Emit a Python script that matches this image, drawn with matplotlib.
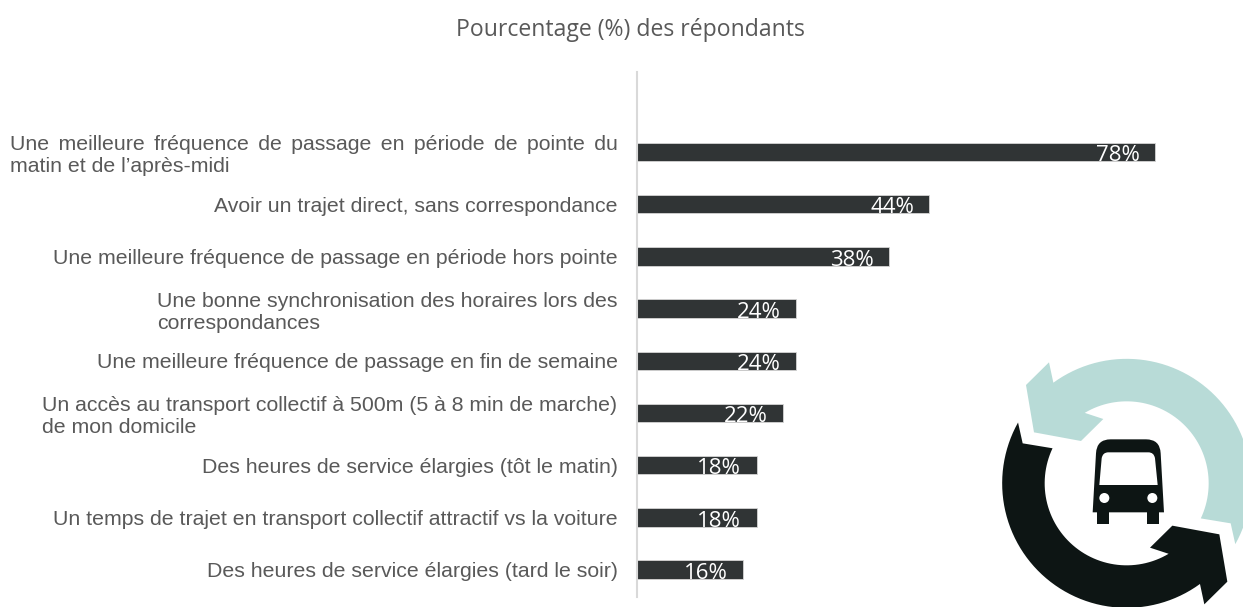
#!/usr/bin/env python
from matplotlib import pyplot as plt
from matplotlib.patches import Polygon, Circle, PathPatch, Rectangle
from matplotlib.path import Path
import numpy as np

labels = [
    'Une \u2006meilleure \u2006fréquence \u2006de \u2006passage \u2006en \u2006période \u2006de \u2006pointe \u2006du\nmatin et de l’après-midi',
    'Avoir un trajet direct, sans correspondance',
    'Une meilleure fréquence de passage en période hors pointe',
    'Une bonne synchronisation des horaires lors des\ncorrespondances',
    'Une meilleure fréquence de passage en fin de semaine',
    'Un accès au transport collectif à 500m (5 à 8 min de marche)\nde mon domicile',
    'Des heures de service élargies (tôt le matin)',
    'Un temps de trajet en transport collectif attractif vs la voiture',
    'Des heures de service élargies (tard le soir)',
]
values = [78, 44, 38, 24, 24, 22, 18, 18, 16]
title = 'Pourcentage (%) des répondants'

W, H = 1243, 607
fig = plt.figure(figsize=(W / 100, H / 100), dpi=100)

# axes placed in pixels of the reference
ax = fig.add_axes([637 / W, 1 - 597 / H, (W - 637) / W, (597 - 72) / H])
ypos = np.arange(len(values))
ax.barh(ypos, values, height=0.35, color='#303435', edgecolor='#d4d4d4', linewidth=0.6)
ax.set_xlim(0, (W - 637) / 6.64)
ax.set_ylim(8.525, -1.533)
ax.set_xticks([])
ax.set_yticks(ypos)
ax.set_yticklabels(labels, family='Liberation Sans', fontsize=15.35, color='#595959',
                   ma='left', linespacing=1.2)
ax.tick_params(axis='y', length=0, pad=14)
for s in ['top', 'right', 'bottom']:
    ax.spines[s].set_visible(False)
ax.spines['left'].set_color('#d9d9d9')
ax.spines['left'].set_linewidth(1.5)

for y, v in zip(ypos, values):
    ax.annotate('%d%%' % v, (v, y), xytext=(-11, -2.7), textcoords='offset points',
                ha='right', va='center', color='white', fontsize=16, family='Open Sans')

fig.text(630 / W, 1 - 29.5 / H, title, ha='center', va='center', fontsize=16.6,
         color='#595959', family='Open Sans')

# logo, drawn in pixels of the reference
logo = fig.add_axes([0, 0, 1, 1], zorder=3)
logo.set_xlim(0, W)
logo.set_ylim(H, 0)
logo.axis('off')
logo.patch.set_alpha(0)

cx, cy = 980 + 440 / 3, 340 + 430 / 3


def crop(p):
    # coordinates measured on the 3x crop of the logo
    return (980 + p[0] / 3, 340 + p[1] / 3)


def arrow(color, flip):
    a1 = np.arctan2(128 - 430, 220 - 440)
    a2 = np.arctan2(612 - 430, 765 - 440)
    a3 = np.arctan2(535 - 430, 662 - 440)
    a4 = np.arctan2(220 - 430, 315 - 440)
    outer = np.linspace(a1, a2, 60)
    inner = np.linspace(a3, a4, 60)
    pts = [crop(p) for p in [(370, 237), (303, 303), (162, 277), (138, 135), (207, 67)]]
    pts += [(cx + 124.5 * np.cos(a), cy + 124.5 * np.sin(a)) for a in outer]
    pts += [crop((752, 550))]
    pts += [(cx + 82 * np.cos(a), cy + 82 * np.sin(a)) for a in inner]
    pts = np.array(pts)
    if flip:
        pts = 2 * np.array([cx, cy]) - pts
    logo.add_patch(Polygon(pts, closed=True, facecolor=color, edgecolor='none'))


arrow('#b8dbd7', False)
arrow('#0d1514', True)

M, L, C, Z = Path.MOVETO, Path.LINETO, Path.CURVE3, Path.CLOSEPOLY
body = [(338, 517), (348, 340), (350, 298), (392, 298), (498, 298), (540, 298), (542, 340),
        (552, 517), (338, 517)]
body_codes = [M, L, C, C, L, C, C, L, Z]
window = [(358, 435), (365, 355), (368, 337), (385, 337), (505, 337), (522, 337), (525, 355),
          (533, 435), (358, 435)]
window_codes = [M, L, C, C, L, C, C, L, Z]
logo.add_patch(PathPatch(Path([crop(p) for p in body], body_codes), fc='#0d1514', ec='none'))
logo.add_patch(PathPatch(Path([crop(p) for p in window], window_codes), fc='white', ec='none'))
for x0 in [352, 502]:
    logo.add_patch(Rectangle(crop((x0, 510)), 12, 13.7, fc='#0d1514', ec='none'))
for xc in [373, 517]:
    logo.add_patch(Circle(crop((xc, 474)), 5, fc='white', ec='none'))

fig.savefig('out.png', dpi=100)
